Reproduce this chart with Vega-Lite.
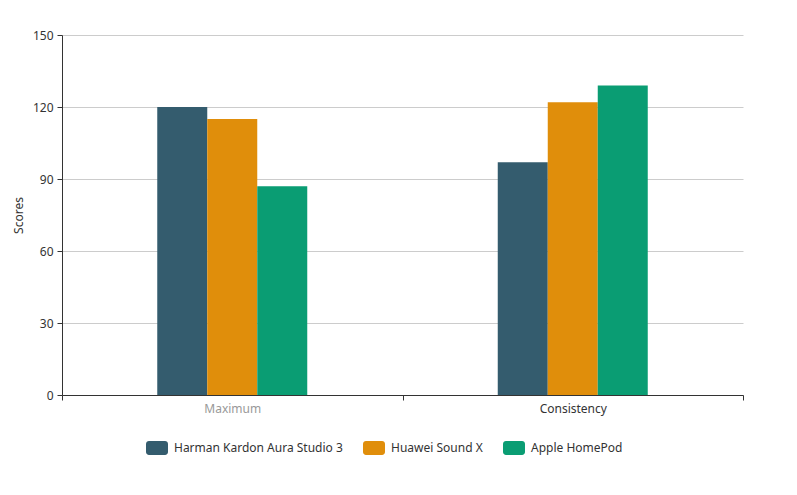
{
  "$schema": "https://vega.github.io/schema/vega-lite/v6.json",
  "width": 681,
  "height": 360,
  "autosize": {"type": "none"},
  "padding": {"left": 62, "top": 35, "right": 54, "bottom": 100},
  "background": "#ffffff",
  "config": {
    "font": "Noto Sans",
    "view": {"stroke": null}
  },
  "data": {
    "values": [
      {"metric": "Maximum", "speaker": "Harman Kardon Aura Studio 3", "score": 120},
      {"metric": "Maximum", "speaker": "Huawei Sound X", "score": 115},
      {"metric": "Maximum", "speaker": "Apple HomePod", "score": 87},
      {"metric": "Consistency", "speaker": "Harman Kardon Aura Studio 3", "score": 97},
      {"metric": "Consistency", "speaker": "Huawei Sound X", "score": 122},
      {"metric": "Consistency", "speaker": "Apple HomePod", "score": 129}
    ]
  },
  "mark": {"type": "bar"},
  "encoding": {
    "x": {
      "field": "metric",
      "type": "nominal",
      "sort": ["Maximum", "Consistency"],
      "scale": {"paddingInner": 0, "paddingOuter": 0},
      "axis": {
        "title": null,
        "labelAngle": 0,
        "labelFontSize": 12,
        "labelPadding": 3,
        "labelColor": {"condition": {"test": "datum.value == 'Maximum'", "value": "#999999"}, "value": "#333333"},
        "domainColor": "#333333",
        "domainWidth": 1,
        "tickColor": "#333333",
        "tickSize": 5,
        "tickBand": "extent",
        "grid": false
      }
    },
    "xOffset": {
      "field": "speaker",
      "type": "nominal",
      "scale": {
        "domain": ["_pad1", "Harman Kardon Aura Studio 3", "Huawei Sound X", "Apple HomePod", "_pad2"],
        "paddingInner": 0,
        "paddingOuter": 0.905
      }
    },
    "y": {
      "field": "score",
      "type": "quantitative",
      "scale": {"domain": [0, 150], "nice": false},
      "axis": {
        "title": "Scores",
        "titleFontSize": 12,
        "titleFontWeight": "normal",
        "titleColor": "#333333",
        "titlePadding": 7,
        "values": [0, 30, 60, 90, 120, 150],
        "labelFontSize": 12,
        "labelColor": "#333333",
        "labelPadding": 4,
        "domainColor": "#333333",
        "tickColor": "#333333",
        "tickSize": 5,
        "gridColor": "#cccccc",
        "gridWidth": 1
      }
    },
    "color": {
      "field": "speaker",
      "type": "nominal",
      "sort": ["Harman Kardon Aura Studio 3", "Huawei Sound X", "Apple HomePod"],
      "scale": {
        "domain": ["Harman Kardon Aura Studio 3", "Huawei Sound X", "Apple HomePod"],
        "range": ["#345c6e", "#e08e0b", "#0a9d73"]
      },
      "legend": {
        "title": null,
        "orient": "none",
        "direction": "horizontal",
        "legendX": 84,
        "legendY": 402,
        "symbolType": "M-0.73,-0.636 H0.73 A0.27,0.27 0 0 1 1,-0.366 V0.366 A0.27,0.27 0 0 1 0.73,0.636 H-0.73 A0.27,0.27 0 0 1 -1,0.366 V-0.366 A0.27,0.27 0 0 1 -0.73,-0.636 Z",
        "symbolSize": 484,
        "symbolStrokeWidth": 0,
        "symbolOpacity": 1,
        "labelFontSize": 12,
        "labelColor": "#333333",
        "labelOffset": 6,
        "labelLimit": 0,
        "columnPadding": 20
      }
    }
  }
}
